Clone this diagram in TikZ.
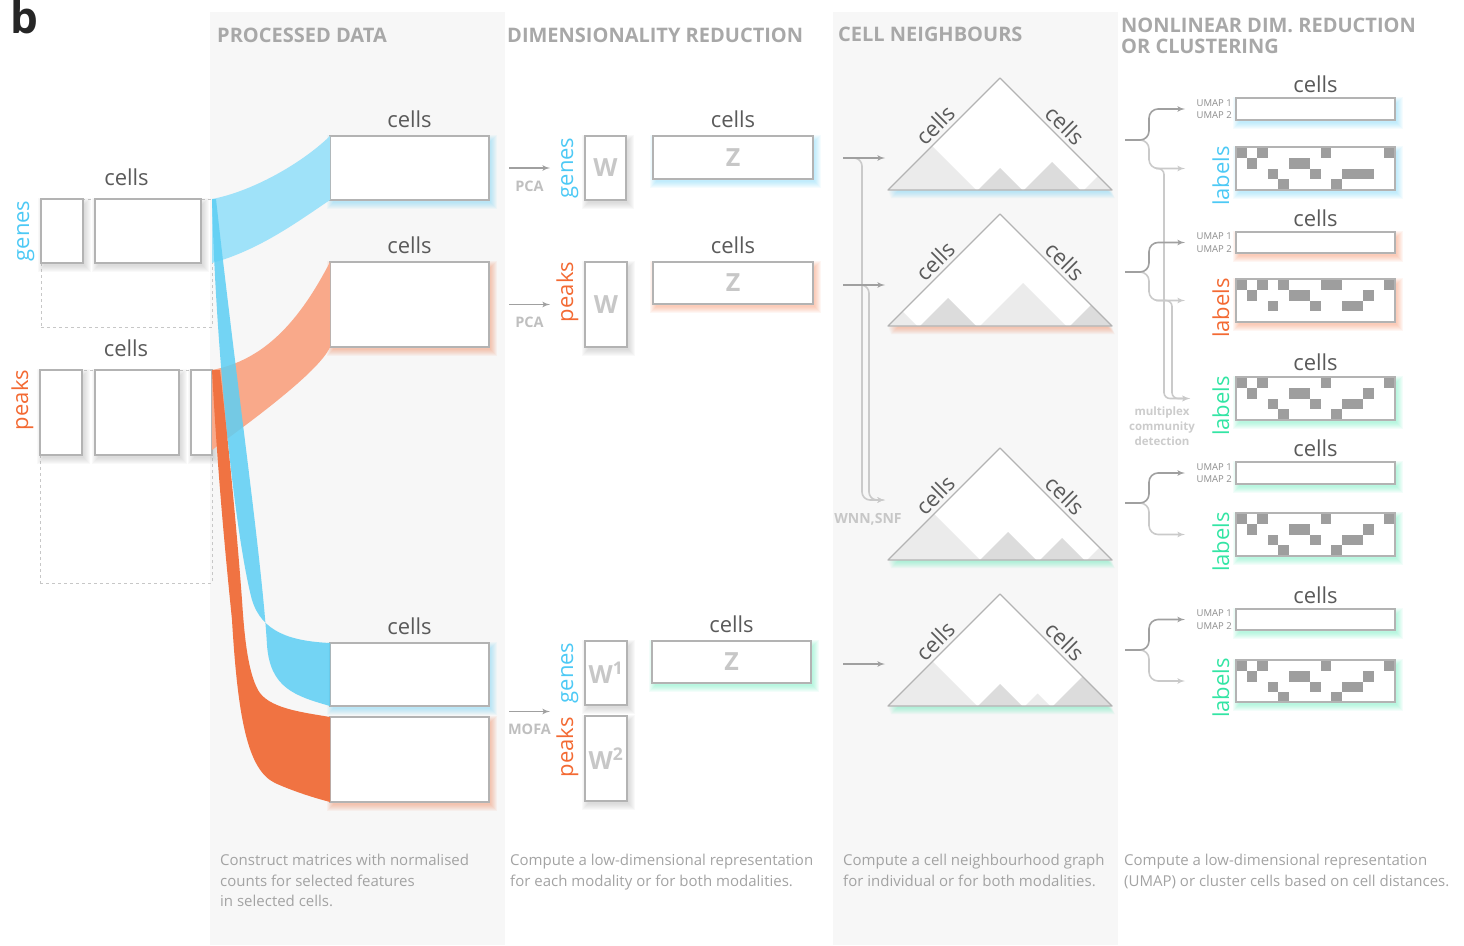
\documentclass[tikz,border=0pt]{standalone}
\usepackage{fontspec}
\setmainfont{Open Sans}
\usepackage{tikz}
\usetikzlibrary{arrows}
\usetikzlibrary{calc}
\usetikzlibrary{positioning}

\definecolor{panelgray}{HTML}{F7F7F7}
\definecolor{boxgray}{HTML}{B3B3B3}
\definecolor{textgray}{HTML}{5A5A5A}
\definecolor{headgray}{HTML}{A8A8A8}
\definecolor{notegray}{HTML}{A3A3A3}
\definecolor{arrowgray}{HTML}{A0A0A0}
\definecolor{linegray}{HTML}{CACACA}
\definecolor{genesblue}{HTML}{4DC9F5}
\definecolor{ribbonblue}{HTML}{9FE2F9}
\definecolor{strandblue}{HTML}{5DCFF4}
\definecolor{peaksorange}{HTML}{F36A33}
\definecolor{ribbonorange}{HTML}{F9A98A}
\definecolor{strandorange}{HTML}{F07342}
\definecolor{jointgreen}{HTML}{33E5A4}
\definecolor{shadeA}{HTML}{EBEBEB}
\definecolor{shadeB}{HTML}{DCDCDC}
\definecolor{labelcell}{HTML}{9E9E9E}

\tikzset{mbox/.style = {draw=boxgray, line width=1.3pt, fill=white, inner sep=0, outer sep=0,
                        font=\bfseries\fontsize{25}{25}\selectfont, text=black!22}}
\tikzset{dashset/.style = {draw=black!22, dashed, line width=0.9pt, inner sep=0, outer sep=0}}
\tikzset{cellsl/.style = {inner sep=0, font=\fontsize{22}{22}\selectfont, text=textgray}}
\tikzset{vlbl/.style = {rotate=90, anchor=base, inner sep=0, font=\fontsize{22}{22}\selectfont}}
\tikzset{head/.style = {anchor=west, inner sep=0, font=\bfseries\fontsize{20}{21}\selectfont, text=headgray}}
\tikzset{note/.style = {anchor=north west, inner sep=0, align=left,
                        font=\fontsize{15}{20.5}\selectfont, text=notegray}}
\tikzset{method/.style = {inner sep=0, font=\bfseries\fontsize{14.5}{15}\selectfont, text=black!25}}
\tikzset{umap/.style = {inner sep=0, align=right, font=\fontsize{9.5}{12.5}\selectfont, text=black!45}}
\tikzset{flow/.style = {draw=arrowgray, line width=1.6pt, -latex'}}
\tikzset{flowlight/.style = {draw=linegray, line width=1.6pt, -latex'}}

% soft coloured halo below and right of a box
\newcommand\glowrect[5]{%
  \foreach \g in {1,...,7}
    \fill[#1, opacity=.06] (#2+4-\g,#3+6-\g) rectangle (#4+1+\g,#5+2+\g);}
% name, halo colour, x1, y1, x2, y2, text
\newcommand\matbox[7]{%
  \glowrect{#2}{#3}{#4}{#5}{#6}
  \node[mbox, minimum width=#5pt-#3pt, minimum height=#6pt-#4pt] (#1) at ({(#3+#5)/2},{(#4+#6)/2}) {#7};}
% 15 x 4 label matrix
\newcommand\labelgrid[2]{%
  \foreach \c/\r in {#2}
    \fill[labelcell] ($(#1.north west)+(\c*10.6,\r*10.75)$) rectangle +(10.6,10.75);
  \draw[boxgray, line width=1.3pt] (#1.north west) rectangle (#1.south east);}
% name, base y, halo colour, sub-triangles
\newcommand\cellgraph[4]{%
  \coordinate (#1l) at (888,#2);
  \coordinate (#1t) at (1000,#2-112);
  \coordinate (#1r) at (1112,#2);
  \foreach \g in {1,...,7}
    \fill[#3, opacity=.06] ([shift={(\g*.4,\g+1)}]#1l) -- ([shift={(\g*.4,\g+1)}]#1t)
      -- ([shift={(\g*.4,\g+1)}]#1r) -- cycle;
  \fill[white] (#1l) -- (#1t) -- (#1r) -- cycle;
  \foreach \a/\b/\s in {#4}
    \fill[\s] (\a,#2) -- ({(\a+\b)/2},{#2-(\b-\a)/2}) -- (\b,#2) -- cycle;
  \draw[boxgray, line width=1.3pt, line join=round] (#1l) -- (#1t) -- (#1r) -- cycle;
  \path (#1l) -- (#1t) node[midway, sloped, above=4pt, cellsl] {cells};
  \path (#1t) -- (#1r) node[midway, sloped, above=4pt, cellsl] {cells};}

\begin{document}
\begin{tikzpicture}[x=1pt, y=-1pt]
  \useasboundingbox (0,0) rectangle (1464,945);
  \fill[panelgray] (210,12) rectangle (505,945);
  \fill[panelgray] (833,12) rectangle (1118,945);

  \node[anchor=base west, inner sep=0, font=\bfseries\fontsize{44}{44}\selectfont, text=black!85] (panel) at (10,33) {b};

  % headings and captions
  \node[head] (h1) at (217,35) {PROCESSED DATA};
  \node[head] (h2) at (507,35) {DIMENSIONALITY REDUCTION};
  \node[head] (h3) at (838,34) {CELL NEIGHBOURS};
  \node[head, align=left] (h4) at (1121,36) {NONLINEAR DIM. REDUCTION\\OR CLUSTERING};
  \node[note] (c1) at (220,854) {Construct matrices with normalised\\counts for selected features\\in selected cells.};
  \node[note] (c2) at (510,854) {Compute a low-dimensional representation\\for each modality or for both modalities.};
  \node[note] (c3) at (843,854) {Compute a cell neighbourhood graph\\for individual or for both modalities.};
  \node[note] (c4) at (1124,854) {Compute a low-dimensional representation\\(UMAP) or cluster cells based on cell distances.};

  % raw matrices
  \node[dashset, minimum width=171pt, minimum height=128pt] (gset) at (126.5,263) {};
  \node[dashset, minimum width=172pt, minimum height=213pt] (pset) at (126,476.5) {};
  \matbox{ga}{black!40}{41}{199}{83}{263}{}
  \matbox{gb}{black!40}{95}{199}{201}{263}{}
  \matbox{pa}{black!40}{40}{370}{82}{455}{}
  \matbox{pb}{black!40}{95}{370}{179}{455}{}
  \matbox{pc}{black!40}{191}{370}{212}{455}{}
  \node[cellsl, above=13pt of gset] (gcells) {cells};
  \node[cellsl, above=13pt of pset] (pcells) {cells};
  \node[vlbl, text=genesblue] (glbl) at ($(ga.west)+(-12,0)$) {genes};
  \node[vlbl, text=peaksorange] (plbl) at ($(pa.north west)+(-12,30)$) {peaks};

  % processed data
  \matbox{g1}{genesblue}{330}{136}{489}{200}{}
  \matbox{p1}{peaksorange}{330}{262}{489}{347}{}
  \matbox{g2}{genesblue}{330}{643}{489}{706}{}
  \matbox{p2}{peaksorange}{330}{717}{489}{802}{}
  \node[cellsl, above=8pt of g1] {cells};
  \node[cellsl, above=8pt of p1] {cells};
  \node[cellsl, above=8pt of g2] {cells};

  \fill[ribbonorange] (pc.north east) .. controls (265,360) and (300,320) .. (p1.north west)
    -- (p1.south west) .. controls (320,370) and (260,415) .. ([yshift=5pt]pc.south east) -- cycle;
  \fill[ribbonblue] (gset.north east) .. controls (250,192) and (300,165) .. (g1.north west)
    -- (g1.south west) .. controls (300,220) and (260,250) .. (gset.north east |- gb.south) -- cycle;
  \fill[strandorange] (pc.north east) .. controls (218,480) and (226,560) .. (232,620)
    .. controls (238,720) and (248,770) .. (275,783) .. controls (295,792) and (315,798) .. (p2.south west)
    -- (p2.north west) .. controls (300,712) and (268,708) .. (258,690)
    .. controls (247,670) and (244,630) .. (242,600) .. controls (236,520) and (228,440) .. ([xshift=8pt]pc.north east) -- cycle;
  \fill[strandblue, opacity=.85] (gset.north east) .. controls (216,360) and (236,540) .. (252,600)
    .. controls (262,632) and (290,641) .. (g2.north west)
    -- (g2.south west) .. controls (295,696) and (270,688) .. (267,645)
    .. controls (262,560) and (236,380) .. ([xshift=4pt]gset.north east) -- cycle;

  % dimensionality reduction
  \matbox{w1}{black!40}{585}{136}{626}{200}{W}
  \matbox{z1}{genesblue}{653}{136}{813}{179}{Z}
  \matbox{w2}{black!40}{585}{262}{627}{347}{W}
  \matbox{z2}{peaksorange}{653}{262}{813}{304}{Z}
  \matbox{w3}{black!40}{585}{641}{627}{705}{W\textsuperscript{1}}
  \matbox{w4}{black!40}{585}{716}{627}{801}{W\textsuperscript{2}}
  \matbox{z3}{jointgreen}{652}{641}{811}{683}{Z}
  \node[cellsl, above=8pt of z1] {cells};
  \node[cellsl, above=8pt of z2] {cells};
  \node[cellsl, above=8pt of z3] {cells};
  \node[vlbl, text=genesblue] at ($(w1.west)+(-12,0)$) {genes};
  \node[vlbl, text=peaksorange] at ($(w2.north west)+(-12,30)$) {peaks};
  \node[vlbl, text=genesblue] at ($(w3.west)+(-12,0)$) {genes};
  \node[vlbl, text=peaksorange] at ($(w4.north west)+(-12,31)$) {peaks};
  \coordinate (mofa) at ($(g2.south east)!.5!(p2.north east)$);
  \coordinate (mofaend) at (w3.west |- mofa);
  \draw[flow] ([xshift=20pt]g1.east) -- ([xshift=-35pt]w1.west) node[midway, below=12pt, method] {PCA};
  \draw[flow] ([xshift=20pt]p1.east) -- ([xshift=-35pt]w2.west |- p1.east) node[midway, below=12pt, method] {PCA};
  \draw[flow] ([xshift=20pt]mofa) -- ([xshift=-35pt]mofaend) node[midway, below=12pt, method] {MOFA};

  % cell neighbours
  \cellgraph{tA}{190}{genesblue}{888/976/shadeA, 978/1022/shadeB, 1024/1080/shadeB, 1084/1112/shadeA}
  \cellgraph{tB}{326}{peaksorange}{888/917/shadeA, 920/976/shadeB, 980/1066/shadeA, 1070/1112/shadeB}
  \cellgraph{tC}{560}{jointgreen}{888/980/shadeA, 980/1036/shadeB, 1040/1084/shadeB, 1087/1112/shadeA}
  \cellgraph{tD}{706}{jointgreen}{888/977/shadeA, 978/1022/shadeB, 1025/1050/shadeA, 1053/1112/shadeB}
  \coordinate (cn1) at (843,158);  \coordinate (cn1e) at (885,158);
  \coordinate (cn2) at (843,285);  \coordinate (cn2e) at (885,285);
  \coordinate (cn3) at (843,500);  \coordinate (cn3e) at (885,500);
  \coordinate (cn4) at (843,664);  \coordinate (cn4e) at (885,664);
  \draw[flowlight, rounded corners=8pt] ([xshift=7pt]cn1) -| ([xshift=19pt]cn3) -- (cn3e);
  \draw[flowlight, rounded corners=8pt] ([xshift=7pt]cn2) -| ([xshift=26pt]cn3) -- (cn3e);
  \draw[flow] (cn1) -- (cn1e);
  \draw[flow] (cn2) -- (cn2e);
  \draw[flow] (cn4) -- (cn4e);
  \node[method, font=\bfseries\fontsize{14}{15}\selectfont, text=black!22] (wnn) at (868,519) {WNN,SNF};

  % nonlinear reduction / clustering
  \matbox{u1}{genesblue}{1236}{98}{1395}{120}{}
  \matbox{l1}{genesblue}{1236}{147}{1395}{190}{}
  \matbox{u2}{peaksorange}{1236}{232}{1395}{253}{}
  \matbox{l2}{peaksorange}{1236}{279}{1395}{322}{}
  \matbox{l3}{jointgreen}{1236}{377}{1395}{420}{}
  \matbox{u4}{jointgreen}{1236}{462}{1395}{484}{}
  \matbox{l4}{jointgreen}{1236}{513}{1395}{556}{}
  \matbox{u5}{jointgreen}{1236}{609}{1395}{630}{}
  \matbox{l5}{jointgreen}{1236}{660}{1395}{702}{}
  \labelgrid{l1}{0/0,2/0,8/0,14/0, 1/1,5/1,6/1, 3/2,7/2,10/2,11/2,12/2, 4/3,9/3}
  \labelgrid{l2}{0/0,2/0,4/0,8/0,9/0,14/0, 1/1,5/1,6/1,12/1, 3/2,7/2,10/2,11/2}
  \labelgrid{l3}{0/0,2/0,8/0,14/0, 1/1,5/1,6/1,12/1, 3/2,7/2,10/2,11/2, 4/3,9/3}
  \labelgrid{l4}{0/0,2/0,8/0,14/0, 1/1,5/1,6/1,12/1, 3/2,7/2,10/2,11/2, 4/3,9/3}
  \labelgrid{l5}{0/0,2/0,8/0,14/0, 1/1,5/1,6/1,12/1, 3/2,7/2,10/2,11/2, 4/3,9/3}
  \node[cellsl, above=5pt of u1] {cells};
  \node[cellsl, above=5pt of u2] {cells};
  \node[cellsl, above=6pt of l3] {cells};
  \node[cellsl, above=5pt of u4] {cells};
  \node[cellsl, above=5pt of u5] {cells};
  \foreach \u in {u1,u2,u4,u5}
    \node[umap, left=4pt of \u] {UMAP 1\\UMAP 2};
  \node[vlbl, text=genesblue] at ($(l1.north west)+(-7,29)$) {labels};
  \node[vlbl, text=peaksorange] at ($(l2.north west)+(-7,29)$) {labels};
  \node[vlbl, text=jointgreen] at ($(l3.north west)+(-7,29)$) {labels};
  \node[vlbl, text=jointgreen] at ($(l4.north west)+(-7,29)$) {labels};
  \node[vlbl, text=jointgreen] at ($(l5.north west)+(-7,28)$) {labels};

  \coordinate (nl1) at (1125,140);
  \coordinate (nl2) at (1125,272);
  \coordinate (nl4) at (1125,503);
  \coordinate (nl5) at (1125,650);
  \draw[flowlight, rounded corners=6pt] ([xshift=-80pt]l1.west) -| ([xshift=-72pt]l3.west) -- ([xshift=-46pt]l3.west);
  \draw[flowlight, rounded corners=6pt] ([xshift=-80pt]l2.west) -| ([xshift=-64pt]l3.west) -- ([xshift=-46pt]l3.west);
  \foreach \n/\u/\l in {nl1/u1/l1, nl2/u2/l2, nl4/u4/l4, nl5/u5/l5}{
    \draw[flowlight, rounded corners=9pt] (\n) -| ([xshift=-87pt]\l.west) -- ([xshift=-51pt]\l.west);
    \draw[flow, rounded corners=9pt] (\n) -| ([xshift=-87pt]\u.west) -- ([xshift=-51pt]\u.west);
  }
  \node[method, align=center, font=\bfseries\fontsize{11.5}{15}\selectfont, text=black!20] (mcd) at (1162,426)
    {multiplex\\community\\detection};
\end{tikzpicture}
\end{document}
